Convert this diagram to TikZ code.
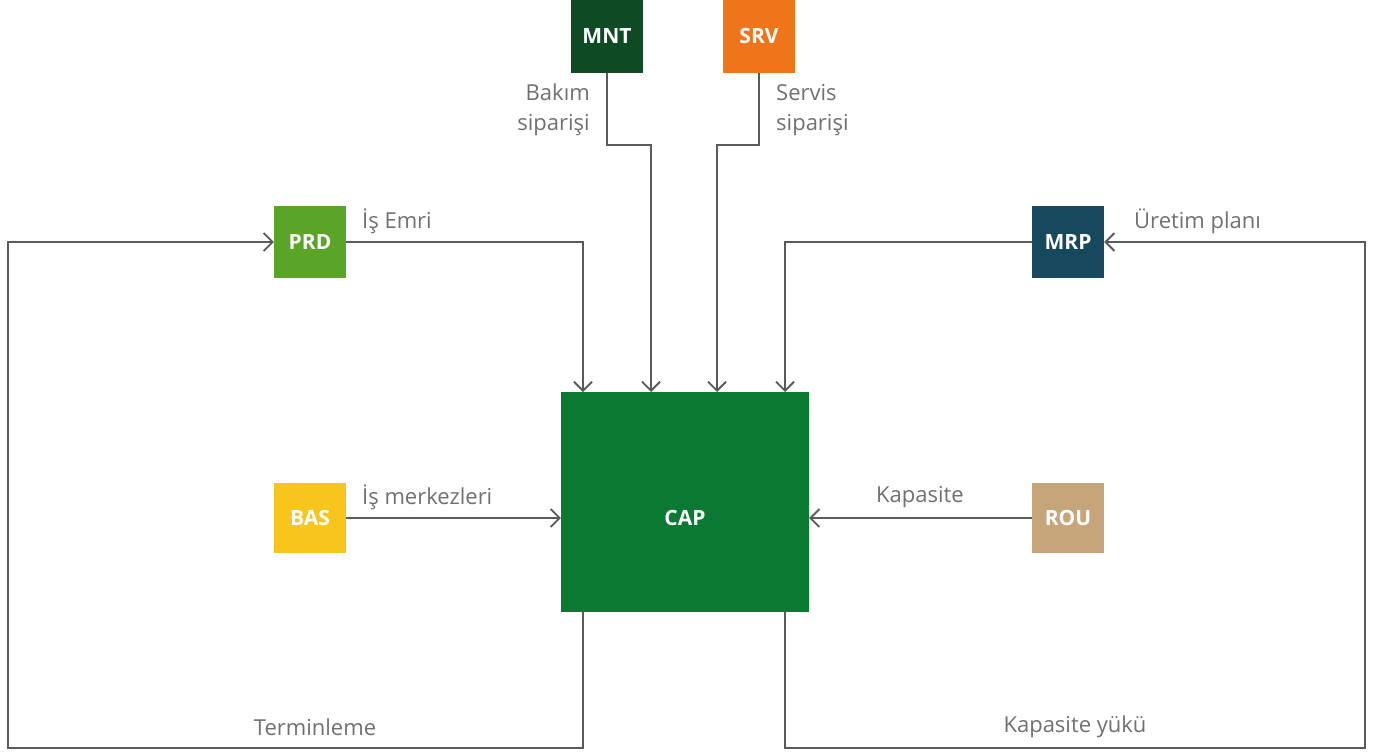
\documentclass[tikz,border=0pt]{standalone}
\usepackage{fontspec}
\setmainfont{Open Sans}
\usetikzlibrary{arrows.meta}
\definecolor{cMNT}{HTML}{0E4A24}
\definecolor{cSRV}{HTML}{F0741A}
\definecolor{cPRD}{HTML}{5AA428}
\definecolor{cMRP}{HTML}{17485E}
\definecolor{cBAS}{HTML}{F7C51C}
\definecolor{cROU}{HTML}{C7A57A}
\definecolor{cCAP}{HTML}{0A7A32}
\definecolor{lineC}{HTML}{5A5A5A}
\definecolor{txtC}{HTML}{707070}
\begin{document}
\begin{tikzpicture}[x=1pt,y=-1pt,
  sbox/.style={minimum width=72pt,minimum height=72pt,inner sep=0pt,text=white,font=\fontsize{21}{24}\selectfont\bfseries},
  conn/.style={draw=lineC,line width=1.8pt},
  arr/.style={conn,-{Straight Barb[length=9pt,width=18pt,line width=1.8pt]}},
  lbl/.style={text=txtC,font=\fontsize{22}{30}\selectfont,inner sep=0pt}]
\useasboundingbox (0,0) rectangle (1373,753);
\node[sbox,fill=cMNT,minimum height=73pt] (mnt) at (607,36) {MNT};
\node[sbox,fill=cSRV,minimum height=73pt] (srv) at (759,36) {SRV};
\node[sbox,fill=cPRD] (prd) at (310,242) {PRD};
\node[sbox,fill=cMRP] (mrp) at (1068,242) {MRP};
\node[sbox,fill=cBAS,minimum height=70pt] (bas) at (310,518) {BAS};
\node[sbox,fill=cROU,minimum height=70pt] (rou) at (1068,518) {ROU};
\node[sbox,fill=cCAP,minimum width=248pt,minimum height=220pt,text height=0pt,text depth=0pt] (cap) at (685,502) {};
\node[text=white,font=\fontsize{21}{24}\selectfont\bfseries,inner sep=0pt] (capl) at (685,518) {CAP};
% top inputs
\draw[arr] (mnt.south) |- (651,145) -- (651,392);
\draw[arr] (srv.south) |- (717,145) -- (717,392);
\draw[arr] (prd.east) -| (583,392);
\draw[arr] (mrp.west) -| (785,392);
\draw[arr] (bas.east) -- (cap.west |- bas.east);
\draw[arr] (rou.west) -- (cap.east |- rou.west);
% feedback loops
\coordinate (lb) at (583,612);
\coordinate (rb) at (785,612);
\draw[arr] (lb) -- (583,748) -- (8,748) -- (8,242) -- (prd.west);
\draw[arr] (rb) -- (785,748) -- (1365,748) -- (1365,242) -- (mrp.east);
% labels
\node[lbl,anchor=east,align=right] (lbak) at (590,110) {Bakım\\siparişi};
\node[lbl,anchor=west,align=left] (lser) at (776,110) {Servis\\siparişi};
\node[lbl,anchor=west] (lis) at (362,221) {İş Emri};
\node[lbl,anchor=west] (luret) at (1134,221) {Üretim planı};
\node[lbl,anchor=west] (lmer) at (362,497) {İş merkezleri};
\node[lbl,anchor=west] (lkap) at (876,497) {Kapasite};
\node[lbl] (lterm) at (315,727) {Terminleme};
\node[lbl] (lyuk) at (1075,727) {Kapasite yükü};
\end{tikzpicture}
\end{document}
